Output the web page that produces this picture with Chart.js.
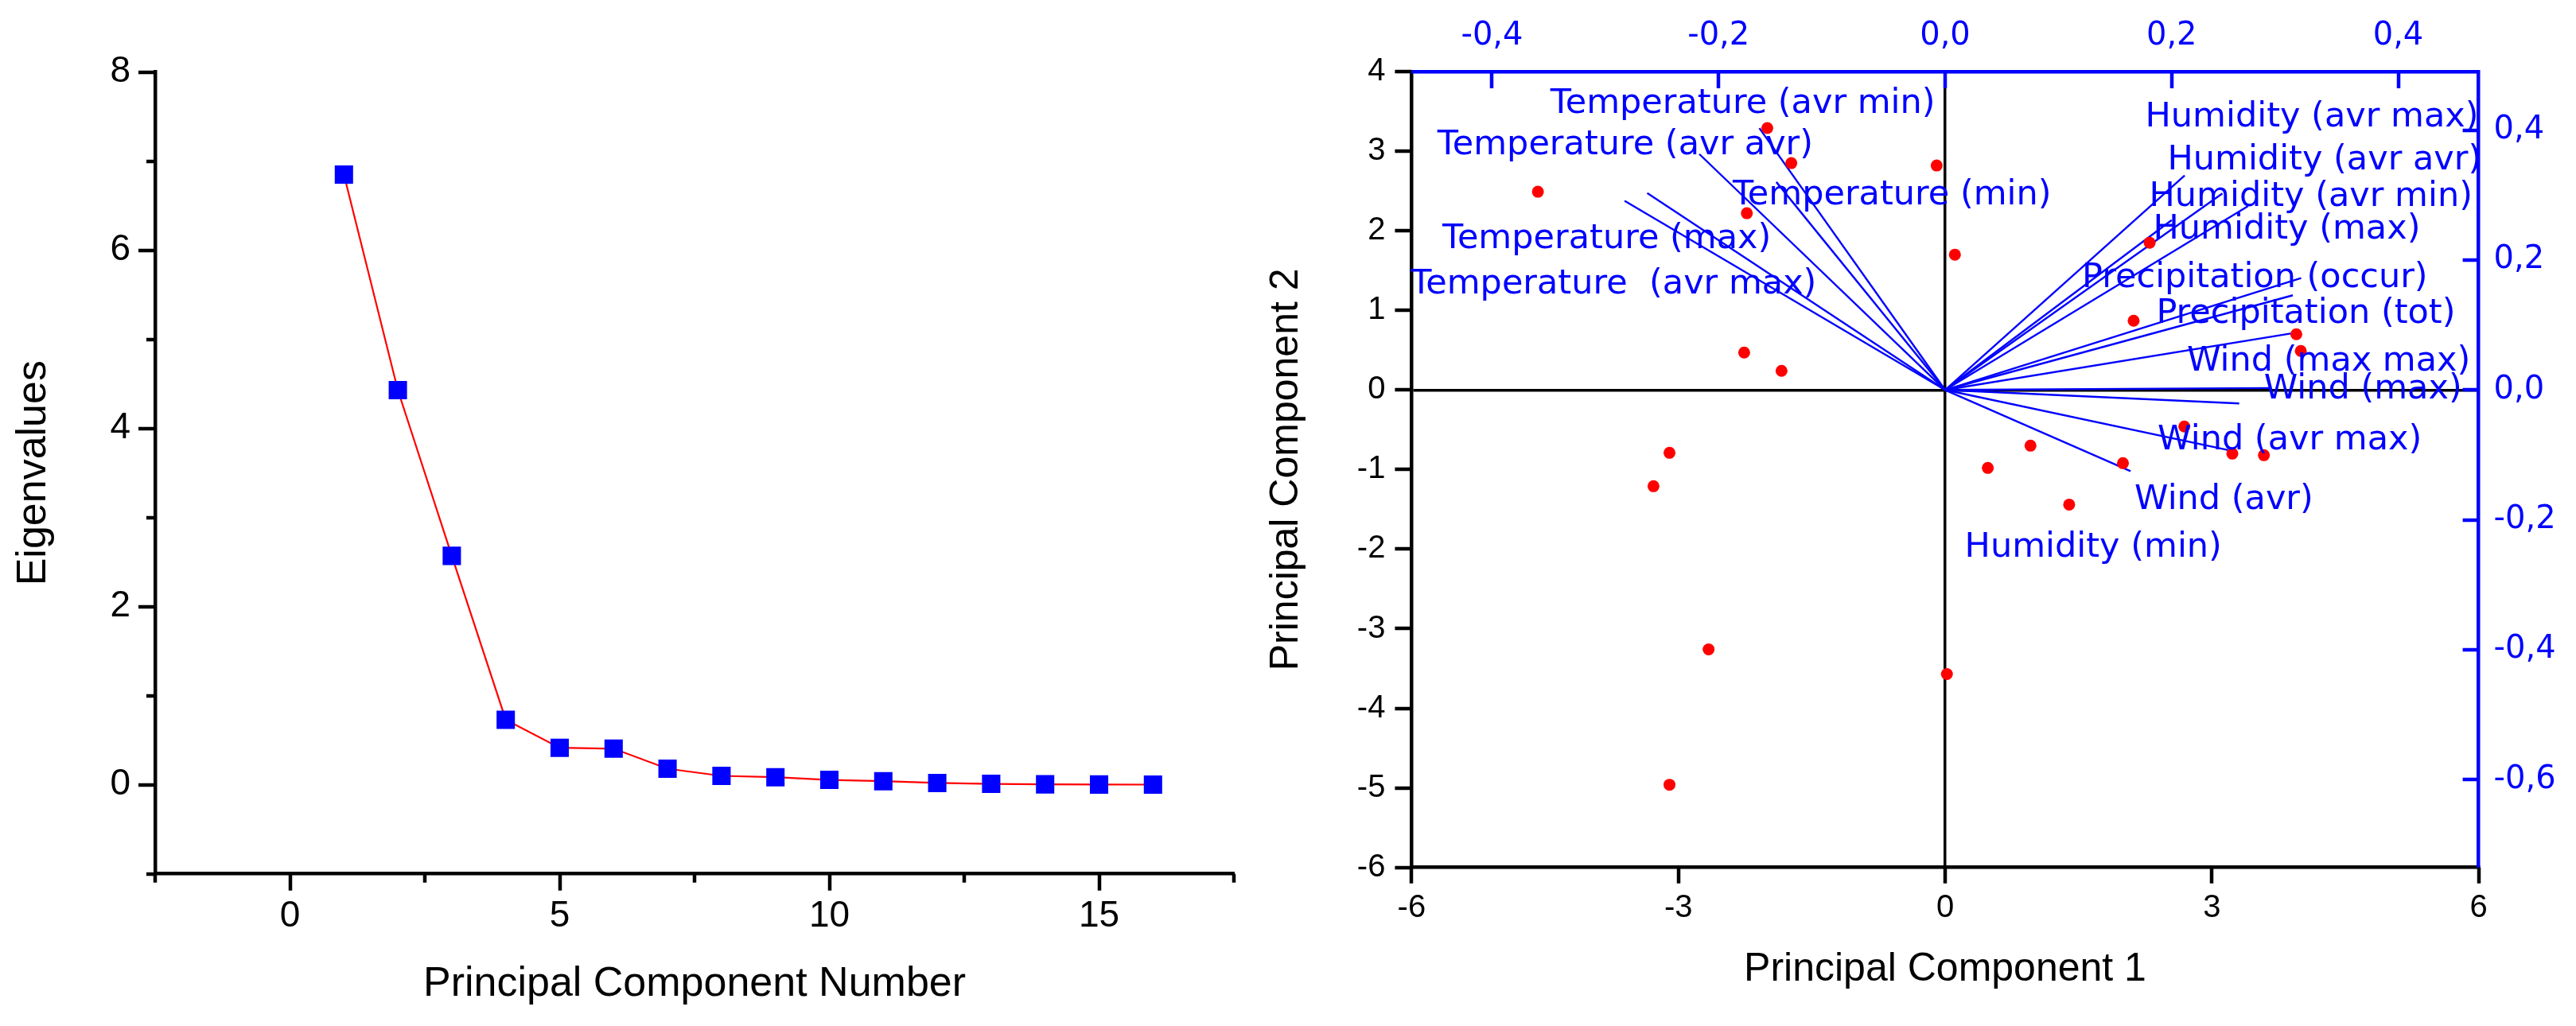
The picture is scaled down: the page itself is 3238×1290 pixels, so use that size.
<!DOCTYPE html>
<html>
<head>
<meta charset="utf-8">
<script src="https://cdn.jsdelivr.net/npm/chart.js@4.4.1/dist/chart.umd.min.js"></script>
<style>
  html, body { margin: 0; padding: 0; background: #ffffff; }
  #wrap { position: relative; width: 3238px; height: 1290px; overflow: hidden; background: #ffffff; }
  #wrap canvas { position: absolute; left: 0; top: 0; }
</style>
</head>
<body>
<div id="wrap">
  <canvas id="scree" width="3238" height="1290"></canvas>
  <canvas id="biplot" width="3238" height="1290"></canvas>
</div>
<script>
// ---------------- Scree plot data ----------------
const componentNumbers = [1, 2, 3, 4, 5, 6, 7, 8, 9, 10, 11, 12, 13, 14, 15, 16];
const eigenvalues = [6.85, 4.43, 2.57, 0.73, 0.415, 0.405, 0.18, 0.10, 0.085, 0.055, 0.04, 0.02, 0.01, 0.005, 0.003, 0.002];
const screeXTicks = [0, 5, 10, 15];
const screeXMinorTicks = [-2.5, 2.5, 7.5, 12.5, 17.5];
const screeYTicks = [0, 2, 4, 6, 8];
const screeYMinorTicks = [-1, 1, 3, 5, 7];

// ---------------- Biplot data ----------------
const scoreX = [-4.58, -2.00, -1.73, -0.095, -2.23, 0.11, 2.30, 2.12, 3.95, 4.00, -2.26, -1.84,
                -3.10, -3.28, 2.69, 0.96, 0.48, 2.00, 3.23, 3.585, 1.395, -2.66, 0.02, -3.10];
const scoreY = [2.49, 3.29, 2.85, 2.82, 2.22, 1.70, 1.85, 0.87, 0.70, 0.49, 0.47, 0.24,
                -0.79, -1.21, -0.46, -0.70, -0.98, -0.92, -0.80, -0.82, -1.44, -3.26, -3.57, -4.96];

const variableNames = [
  'Temperature (avr min)', 'Temperature (avr avr)', 'Temperature (min)', 'Temperature (max)', 'Temperature  (avr max)',
  'Humidity (avr max)', 'Humidity (avr avr)', 'Humidity (avr min)', 'Humidity (max)',
  'Precipitation (occur)', 'Precipitation (tot)',
  'Wind (max max)', 'Wind (max)', 'Wind (avr max)', 'Wind (avr)', 'Humidity (min)'
];
const loadingX = [-0.164, -0.217, -0.149, -0.263, -0.283, 0.2115, 0.2448, 0.2673, 0.200, 0.3143, 0.307, 0.3114, 0.286, 0.254, 0.1637, 0.2596];
const loadingY = [0.403, 0.363, 0.320, 0.303, 0.291, 0.330, 0.3024, 0.2828, 0.2613, 0.1723, 0.1457, 0.0886, 0.003, -0.094, -0.125, -0.0208];
// label anchors (in Principal Component units)
const labelX = [-4.44, -5.71, -2.39, -5.655, -6.01, 2.25, 2.50, 2.295, 2.34, 1.54, 2.375, 2.72, 3.585, 2.39, 2.13, 0.22];
const labelY = [3.48, 2.957, 2.334, 1.78, 1.214, 3.314, 2.774, 2.307, 1.90, 1.29, 0.84, 0.247, -0.11, -0.743, -1.493, -2.10];

const pc1Ticks = [-6, -3, 0, 3, 6];
const pc2Ticks = [-6, -5, -4, -3, -2, -1, 0, 1, 2, 3, 4];
const loadXTicks = [-0.4, -0.2, 0, 0.2, 0.4];
const loadXTickLabels = ['-0,4', '-0,2', '0,0', '0,2', '0,4'];
const loadYTicks = [-0.6, -0.4, -0.2, 0, 0.2, 0.4];
const loadYTickLabels = ['-0,6', '-0,4', '-0,2', '0,0', '0,2', '0,4'];

// ---------------- helpers ----------------
const SANS = '"Liberation Sans", Arial, sans-serif';
const DEJAVU = '"DejaVu Sans", Verdana, sans-serif';
const BLUE = '#0000ff';
const RED = '#ff0000';

function marksPlugin(specs) {
  return {
    id: 'marks',
    afterDraw(chart) {
      const ctx = chart.ctx, a = chart.chartArea;
      ctx.save();
      ctx.lineCap = 'butt';
      for (const s of specs) {
        const sc = chart.scales[s.axis];
        ctx.strokeStyle = s.color;
        ctx.lineWidth = s.width;
        for (const v of s.values) {
          const p = Math.round(sc.getPixelForValue(v));
          ctx.beginPath();
          if (sc.isHorizontal()) {
            const edge = sc.position === 'bottom' ? a.bottom : a.top;
            const out = sc.position === 'bottom' ? 1 : -1;
            const d = s.inward ? -out : out;
            ctx.moveTo(p, edge);
            ctx.lineTo(p, edge + d * s.len);
          } else {
            const edge = sc.position === 'left' ? a.left : a.right;
            const out = sc.position === 'left' ? -1 : 1;
            const d = s.inward ? -out : out;
            ctx.moveTo(edge, p);
            ctx.lineTo(edge + d * s.len, p);
          }
          ctx.stroke();
        }
      }
      ctx.restore();
    }
  };
}

const labelPlugin = {
  id: 'varLabels',
  afterDatasetsDraw(chart) {
    const ctx = chart.ctx, xs = chart.scales.x, ys = chart.scales.y;
    ctx.save();
    ctx.font = '43px ' + DEJAVU;
    ctx.fillStyle = BLUE;
    ctx.textAlign = 'left';
    ctx.textBaseline = 'alphabetic';
    variableNames.forEach((name, i) => {
      ctx.fillText(name, xs.getPixelForValue(labelX[i]), ys.getPixelForValue(labelY[i]));
    });
    ctx.restore();
  }
};

// ---------------- Scree plot ----------------
new Chart(document.getElementById('scree'), {
  type: 'scatter',
  data: {
    datasets: [{
      data: componentNumbers.map((n, i) => ({ x: n, y: eigenvalues[i] })),
      showLine: true,
      borderColor: RED,
      borderWidth: 2.2,
      pointStyle: 'rect',
      pointRadius: 16.3,
      pointBackgroundColor: BLUE,
      pointBorderColor: BLUE,
      pointBorderWidth: 0,
      tension: 0
    }]
  },
  options: {
    responsive: false,
    devicePixelRatio: 1,
    animation: false,
    layout: { padding: { left: 0, top: 90.7, right: 1687, bottom: 0 } },
    plugins: { legend: { display: false }, tooltip: { enabled: false } },
    scales: {
      x: {
        type: 'linear', position: 'bottom', min: -2.5, max: 17.5,
        afterBuildTicks: s => { s.ticks = screeXTicks.map(v => ({ value: v })); },
        afterFit: s => { s.height = 1290 - 1098.7; },
        grid: { display: false, drawTicks: false },
        border: { display: true, color: '#000', width: 4.5 },
        ticks: { padding: 26, color: '#000', font: { family: SANS, size: 46 }, maxRotation: 0, callback: v => String(v) },
        title: { display: true, text: 'Principal Component Number', color: '#000', font: { family: SANS, size: 52 }, padding: { top: 0, bottom: 21 } }
      },
      y: {
        type: 'linear', position: 'left', min: -1, max: 8,
        afterBuildTicks: s => { s.ticks = screeYTicks.map(v => ({ value: v })); },
        afterFit: s => { s.width = 195; },
        grid: { display: false, drawTicks: false },
        border: { display: true, color: '#000', width: 4.5 },
        ticks: { padding: 31, color: '#000', font: { family: SANS, size: 46 }, callback: v => String(v) },
        title: { display: true, text: 'Eigenvalues', color: '#000', font: { family: SANS, size: 52 }, padding: { top: 11, bottom: 0 } }
      }
    }
  },
  plugins: [marksPlugin([
    { axis: 'x', values: screeXTicks, len: 21, inward: false, color: '#000', width: 4.5 },
    { axis: 'x', values: screeXMinorTicks, len: 11, inward: false, color: '#000', width: 4.5 },
    { axis: 'y', values: screeYTicks, len: 21, inward: false, color: '#000', width: 4.5 },
    { axis: 'y', values: screeYMinorTicks, len: 11, inward: false, color: '#000', width: 4.5 }
  ])]
});

// ---------------- Biplot ----------------
const zeroLine = c => (c.tick && c.tick.value === 0) ? '#000000' : 'rgba(0,0,0,0)';
const loadingDatasets = variableNames.map((name, i) => ({
  label: name,
  data: [{ x: 0, y: 0 }, { x: loadingX[i], y: loadingY[i] }],
  xAxisID: 'x2', yAxisID: 'y2',
  showLine: true,
  borderColor: BLUE,
  borderWidth: 2.4,
  pointRadius: 0,
  tension: 0
}));

new Chart(document.getElementById('biplot'), {
  type: 'scatter',
  data: {
    datasets: [{
      label: 'Scores',
      data: scoreX.map((x, i) => ({ x: x, y: scoreY[i] })),
      xAxisID: 'x', yAxisID: 'y',
      pointRadius: 7.5,
      pointBackgroundColor: RED,
      pointBorderColor: RED,
      pointBorderWidth: 0
    }].concat(loadingDatasets)
  },
  options: {
    responsive: false,
    devicePixelRatio: 1,
    animation: false,
    layout: { padding: { left: 1580, top: 0, right: 0, bottom: 0 } },
    plugins: { legend: { display: false }, tooltip: { enabled: false } },
    scales: {
      x: {
        type: 'linear', position: 'bottom', min: -6, max: 6,
        afterBuildTicks: s => { s.ticks = pc1Ticks.map(v => ({ value: v })); },
        afterFit: s => { s.height = 1290 - 1090.7; },
        grid: { display: true, drawTicks: false, color: zeroLine, lineWidth: 3.5 },
        border: { display: true, color: '#000', width: 4.5 },
        ticks: { padding: 27, color: '#000', font: { family: SANS, size: 40 }, maxRotation: 0, callback: v => String(v) },
        title: { display: true, text: 'Principal Component 1', color: '#000', font: { family: SANS, size: 50 }, padding: { top: 0, bottom: 41 } }
      },
      y: {
        type: 'linear', position: 'left', min: -6, max: 4,
        afterBuildTicks: s => { s.ticks = pc2Ticks.map(v => ({ value: v })); },
        afterFit: s => { s.width = 1774.4 - 1580; },
        grid: { display: true, drawTicks: false, color: zeroLine, lineWidth: 3.5 },
        border: { display: true, color: '#000', width: 4.5 },
        ticks: { padding: 33, color: '#000', font: { family: SANS, size: 40 }, callback: v => String(v) },
        title: { display: true, text: 'Principal Component 2', color: '#000', font: { family: SANS, size: 50 }, padding: { top: 7, bottom: 0 } }
      },
      x2: {
        type: 'linear', position: 'top', min: -0.471, max: 0.471,
        afterBuildTicks: s => { s.ticks = loadXTicks.map(v => ({ value: v })); },
        afterFit: s => { s.height = 90; },
        grid: { display: false, drawTicks: false },
        border: { display: true, color: BLUE, width: 4.5 },
        ticks: { padding: 20, color: BLUE, font: { family: DEJAVU, size: 40 }, maxRotation: 0, callback: (v, i) => loadXTickLabels[i] }
      },
      y2: {
        type: 'linear', position: 'right', min: -0.735, max: 0.49,
        afterBuildTicks: s => { s.ticks = loadYTicks.map(v => ({ value: v })); },
        afterFit: s => { s.width = 3238 - 3115.6; },
        grid: { display: false, drawTicks: false },
        border: { display: true, color: BLUE, width: 4.5 },
        ticks: { padding: 19, color: BLUE, font: { family: DEJAVU, size: 40 }, callback: (v, i) => loadYTickLabels[i] }
      }
    }
  },
  plugins: [labelPlugin, marksPlugin([
    { axis: 'x', values: pc1Ticks, len: 20, inward: false, color: '#000', width: 4.5 },
    { axis: 'y', values: pc2Ticks, len: 21, inward: false, color: '#000', width: 4.5 },
    { axis: 'x2', values: loadXTicks, len: 21, inward: true, color: BLUE, width: 4.5 },
    { axis: 'y2', values: loadYTicks, len: 20, inward: true, color: BLUE, width: 4.5 }
  ])]
});
</script>
</body>
</html>
